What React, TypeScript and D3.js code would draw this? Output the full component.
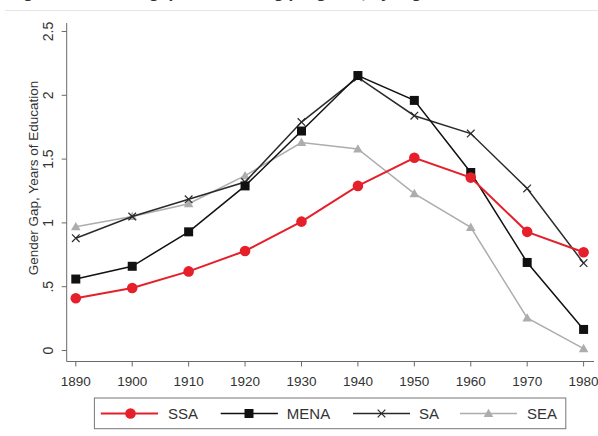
import React from "react";
import * as d3 from "d3";

const years = [1890, 1900, 1910, 1920, 1930, 1940, 1950, 1960, 1970, 1980];
const ssa = [0.41, 0.49, 0.62, 0.78, 1.01, 1.29, 1.51, 1.355, 0.93, 0.77];
const mena = [0.56, 0.66, 0.93, 1.29, 1.72, 2.155, 1.96, 1.395, 0.69, 0.165];
const sa = [0.88, 1.05, 1.185, 1.32, 1.79, 2.14, 1.84, 1.70, 1.27, 0.685];
const sea = [0.97, 1.05, 1.15, 1.37, 1.63, 1.58, 1.23, 0.965, 0.255, 0.015];
const yTicks = [0, 0.5, 1, 1.5, 2, 2.5];
const yTickLabels = ["0", ".5", "1", "1.5", "2", "2.5"];
const seriesNames = ["SSA", "MENA", "SA", "SEA"];

const W = 598;
const H = 436;
const FONT = "'Liberation Sans', Arial, sans-serif";

const x = d3.scaleLinear().domain([1890, 1980]).range([75.8, 583.6]);
const y = d3.scaleLinear().domain([0, 2.5]).range([350.5, 31.5]);

const AX_LEFT = 66.7;
const AX_RIGHT = 594;
const AX_BOTTOM = 361.5;
const AX_TOP = 23;

const colors = { SSA: "#e5202a", MENA: "#111111", SA: "#2a2a2a", SEA: "#adadad" };

function Marker({ kind, cx, cy }: { kind: string; cx: number; cy: number }) {
  if (kind === "SSA") return <circle cx={cx} cy={cy} r={5.3} fill={colors.SSA} />;
  if (kind === "MENA")
    return <rect x={cx - 4.5} y={cy - 4.5} width={9} height={9} fill={colors.MENA} />;
  if (kind === "SA") {
    const s = 3.8;
    return (
      <g stroke={colors.SA} strokeWidth={1.2}>
        <line x1={cx - s} y1={cy - s} x2={cx + s} y2={cy + s} />
        <line x1={cx - s} y1={cy + s} x2={cx + s} y2={cy - s} />
      </g>
    );
  }
  const t = d3.symbol().type(d3.symbolTriangle).size(40)();
  return <path d={t as string} transform={`translate(${cx},${cy + 0.8})`} fill={colors.SEA} />;
}

export default function App() {
  const data: Record<string, number[]> = { SSA: ssa, MENA: mena, SA: sa, SEA: sea };
  const line = d3
    .line<number>()
    .x((_, i) => x(years[i]))
    .y((v) => y(v));
  const drawOrder = ["SEA", "SA", "MENA", "SSA"];
  const legendItems = [
    { name: "SSA", x1: 100.8, x2: 158, mx: 130.5, lx: 168 },
    { name: "MENA", x1: 220.7, x2: 277.9, mx: 249, lx: 286.8 },
    { name: "SA", x1: 353, x2: 410, mx: 381.5, lx: 419 },
    { name: "SEA", x1: 460, x2: 517, mx: 488.5, lx: 527 },
  ];
  const legY = 413.5;
  return (
    <div style={{ position: "absolute", left: 0, top: 0 }}>
      <svg width={W} height={H} style={{ display: "block", background: "#fff" }}>
        <rect x={0} y={0} width={W} height={H} fill="#fff" />
        {/* caption above, clipped by the picture's top edge: only descenders remain */}
        <text x={8} y={-2} fontFamily={FONT} fontWeight="bold" fontSize={17} fill="#333">
          Figure 4: Gender gap in schooling progress, by region and cohort
        </text>
        <line x1={5} x2={W} y1={10.5} y2={10.5} stroke="#e6e6e6" strokeWidth={1} />

        {/* axes */}
        <g stroke="#6a6a6a" strokeWidth={1} fill="none">
          <line x1={AX_LEFT} x2={AX_LEFT} y1={AX_TOP} y2={AX_BOTTOM} />
          <line x1={AX_LEFT} x2={AX_RIGHT} y1={AX_BOTTOM} y2={AX_BOTTOM} />
          {yTicks.map((t) => (
            <line key={t} x1={AX_LEFT - 5} x2={AX_LEFT} y1={y(t)} y2={y(t)} />
          ))}
          {years.map((t) => (
            <line key={t} x1={x(t)} x2={x(t)} y1={AX_BOTTOM} y2={AX_BOTTOM + 5} />
          ))}
        </g>
        {yTicks.map((t, i) => (
          <text
            key={t}
            transform={`translate(${53},${y(t)}) rotate(-90)`}
            textAnchor="middle"
            fontFamily={FONT}
            fontSize={14}
            fill="#333"
          >
            {yTickLabels[i]}
          </text>
        ))}
        {years.map((t) => (
          <text
            key={t}
            x={x(t)}
            y={386}
            textAnchor="middle"
            fontFamily={FONT}
            fontSize={13.5}
            fill="#333"
          >
            {t}
          </text>
        ))}
        <text
          transform={`translate(${38},${178}) rotate(-90)`}
          textAnchor="middle"
          fontFamily={FONT}
          fontSize={13.5}
          fill="#333"
        >
          Gender Gap, Years of Education
        </text>

        {/* series */}
        {drawOrder.map((name) => (
          <g key={name}>
            <path
              d={line(data[name]) as string}
              fill="none"
              stroke={colors[name as keyof typeof colors]}
              strokeWidth={name === "SSA" ? 2 : 1.5}
            />
            {data[name].map((v, i) => (
              <Marker key={i} kind={name} cx={x(years[i])} cy={y(v)} />
            ))}
          </g>
        ))}

        {/* legend */}
        <rect x={94.4} y={398} width={471.4} height={30.7} fill="#fff" stroke="#777" strokeWidth={1} />
        {legendItems.map((it, i) => (
          <g key={it.name}>
            <line
              x1={it.x1}
              x2={it.x2}
              y1={legY}
              y2={legY}
              stroke={colors[it.name as keyof typeof colors]}
              strokeWidth={it.name === "SSA" ? 2 : 1.5}
            />
            <Marker kind={it.name} cx={it.mx} cy={legY} />
            <text x={it.lx} y={legY + 5.5} fontFamily={FONT} fontSize={15} fill="#333">
              {seriesNames[i]}
            </text>
          </g>
        ))}
      </svg>
    </div>
  );
}
